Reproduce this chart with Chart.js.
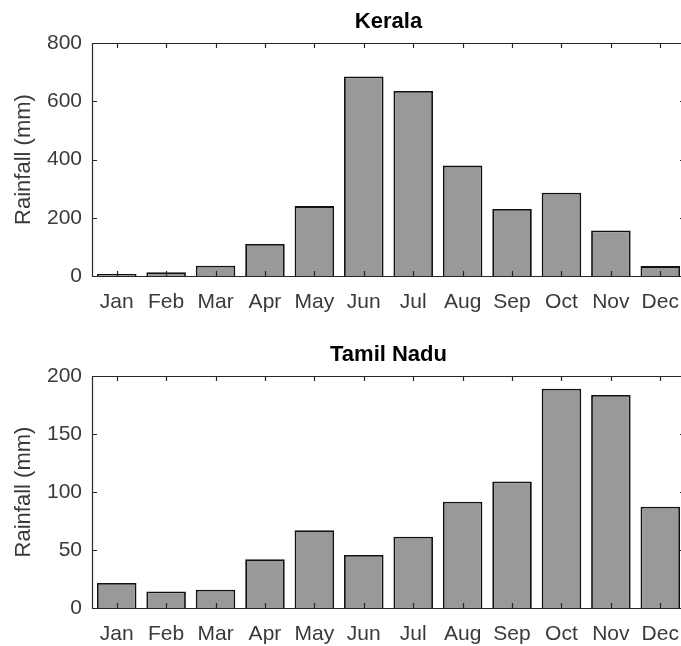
<!DOCTYPE html>
<html>
<head>
<meta charset="utf-8">
<script src="https://cdn.jsdelivr.net/npm/chart.js@4"></script>
<style>
  html, body { margin: 0; padding: 0; background: #fff; overflow: hidden; }
  .box { position: absolute; left: 0; width: 700px; }
  #top { top: 0; height: 320px; }
  #bottom { top: 320px; height: 326px; }
</style>
</head>
<body>
<div class="box" id="top"><canvas id="kerala"></canvas></div>
<div class="box" id="bottom"><canvas id="tamil"></canvas></div>
<script>
const months = ['Jan', 'Feb', 'Mar', 'Apr', 'May', 'Jun', 'Jul', 'Aug', 'Sep', 'Oct', 'Nov', 'Dec'];
const keralaRain = [7, 13, 35, 110, 240, 685, 635, 379, 230, 286, 156, 34];
const tamilRain = [21.5, 14.3, 15.8, 42, 67, 45.7, 61.5, 91.6, 109, 189, 183.6, 87.3];
const keralaTicks = [0, 200, 400, 600, 800];
const tamilTicks = [0, 50, 100, 150, 200];

const axisColor = '#262626';
const fontFam = 'Liberation Sans, Arial, sans-serif';

// MATLAB style box with inward tick marks
const boxPlugin = {
    id: 'box',
    afterDatasetsDraw(chart) {
        const a = chart.chartArea;
        const ctx = chart.ctx;
        const x = chart.scales.x, y = chart.scales.y;
        ctx.save();
        ctx.strokeStyle = axisColor;
        ctx.lineWidth = 1.2;
        ctx.beginPath();
        ctx.rect(a.left + 0.5, a.top + 0.5, a.right - a.left, a.bottom - a.top);
        x.ticks.forEach(function (t, i) {
            const px = Math.round(x.getPixelForTick(i)) + 0.5;
            ctx.moveTo(px, a.bottom); ctx.lineTo(px, a.bottom - 5);
            ctx.moveTo(px, a.top); ctx.lineTo(px, a.top + 5);
        });
        y.ticks.forEach(function (t, i) {
            const py = Math.round(y.getPixelForTick(i)) + 0.5;
            ctx.moveTo(a.left, py); ctx.lineTo(a.left + 5, py);
            ctx.moveTo(a.right, py); ctx.lineTo(a.right - 5, py);
        });
        ctx.stroke();
        ctx.restore();
    }
};

function makeChart(id, title, values, ticks, topPad, bottomH) {
    const ctx = document.getElementById(id).getContext('2d');
    return new Chart(ctx, {
        type: 'bar',
        data: {
            labels: months,
            datasets: [{
                data: values,
                backgroundColor: '#999999',
                borderColor: '#111111',
                borderWidth: 1.8,
                barPercentage: 0.8,
                categoryPercentage: 1.0
            }]
        },
        options: {
            responsive: true,
            maintainAspectRatio: false,
            animation: false,
            layout: { padding: { left: 0, right: 15, top: topPad, bottom: 0 } },
            plugins: {
                legend: { display: false },
                tooltip: { enabled: false },
                title: {
                    display: true,
                    text: title,
                    fullSize: false,
                    color: '#000',
                    font: { family: fontFam, size: 22, weight: 'bold' },
                    padding: { top: 9, bottom: 7.6 }
                }
            },
            scales: {
                x: {
                    grid: { display: false, drawTicks: false },
                    border: { display: false },
                    ticks: {
                        color: '#3a3a3a',
                        padding: 14,
                        maxRotation: 0,
                        font: { family: fontFam, size: 21 }
                    },
                    afterFit: function (s) { s.height = bottomH; }
                },
                y: {
                    min: ticks[0],
                    max: ticks[ticks.length - 1],
                    afterBuildTicks: function (s) { s.ticks = ticks.map(function (v) { return { value: v }; }); },
                    grid: { display: false, drawTicks: false },
                    border: { display: false },
                    ticks: {
                        color: '#3a3a3a',
                        padding: 10,
                        font: { family: fontFam, size: 21 }
                    },
                    title: {
                        display: true,
                        text: 'Rainfall (mm)',
                        color: '#3a3a3a',
                        padding: { top: 11, bottom: 0 },
                        font: { family: fontFam, size: 22 }
                    },
                    afterFit: function (s) { s.width = 92; }
                }
            }
        },
        plugins: [boxPlugin]
    });
}

makeChart('kerala', 'Kerala', keralaRain, keralaTicks, 0, 44);
makeChart('tamil', 'Tamil Nadu', tamilRain, tamilTicks, 13, 326 - 288);
</script>
</body>
</html>
